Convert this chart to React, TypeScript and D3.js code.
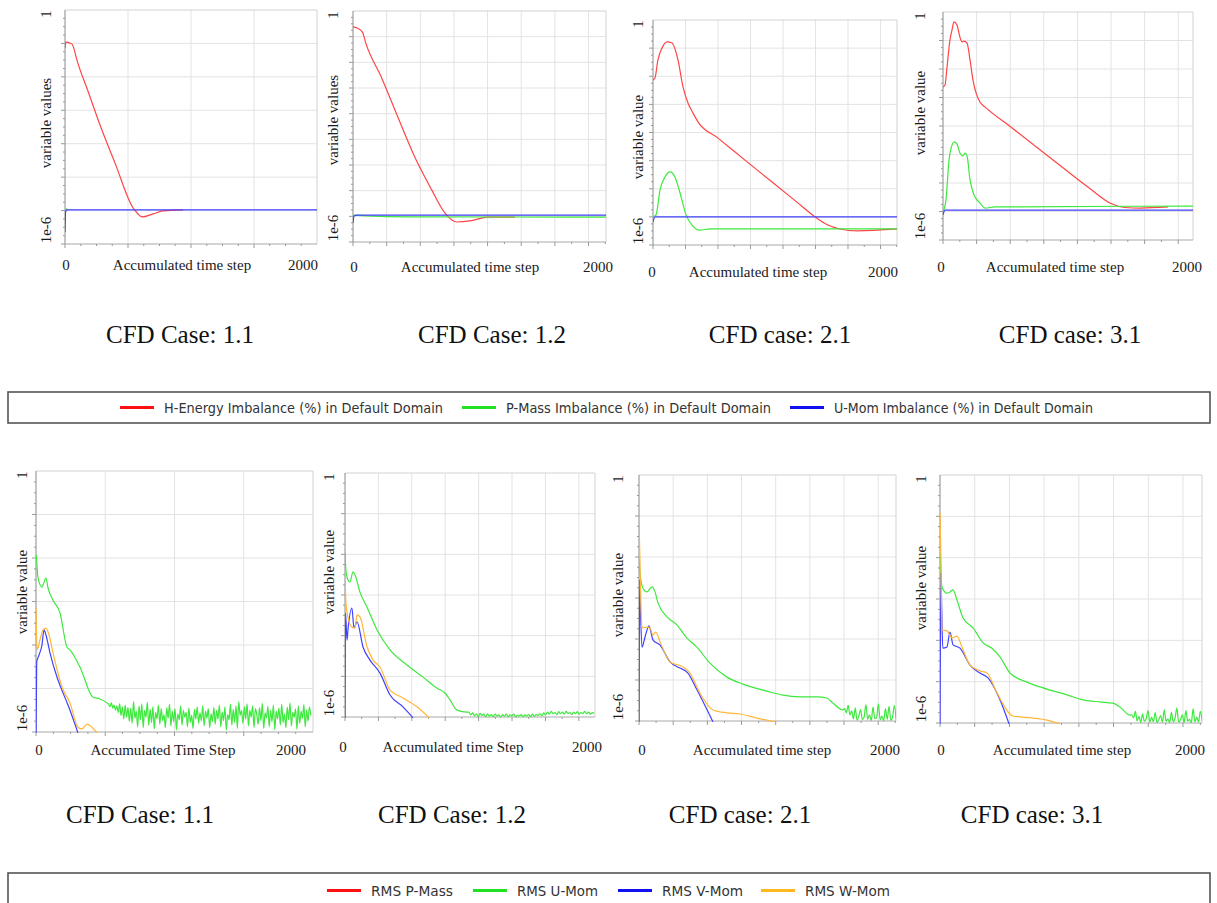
import React from 'react';
import * as d3 from 'd3';

type P = [number, number]; // [accumulated time step, log10(value)]

// ---------- Top row: imbalance (%) ----------
const t11Red: P[] = [[0,-1.14],[8,-0.96],[40,-0.99],[56,-1.02],[67,-1.11],[95,-1.5],[180,-2.4],[278,-3.44],[400,-4.61],[540,-5.92],[575,-6.08],[611,-6.19],[699,-6.1],[778,-6.01],[937,-5.98]];
const t11Green: P[] = [[0,-6.35],[6,-5.95],[25,-5.98]];
const t11Blue: P[] = [[0,-6.64],[5,-6.04],[15,-5.98],[2000,-5.98]];

const t12Red: P[] = [[0,-0.62],[30,-0.66],[70,-0.82],[95,-1.25],[213,-2.61],[333,-4.13],[459,-5.69],[585,-6.97],[682,-7.87],[734,-8.14],[771,-8.22],[868,-8.18],[1002,-8.03],[1203,-8.03]];
const t12Green: P[] = [[0,-7.95],[100,-7.98],[400,-8.02],[1880,-8.03]];
const t12Blue: P[] = [[0,-8.26],[8,-7.99],[30,-7.95],[1880,-7.95]];

const t21Red: P[] = [[0,-2.13],[15,-2.06],[38,-1.42],[69,-1.0],[108,-0.78],[146,-0.82],[192,-1.42],[231,-2.38],[269,-2.95],[308,-3.31],[346,-3.62],[500,-4.2],[800,-5.33],[1100,-6.45],[1246,-7.0],[1340,-7.28],[1438,-7.43],[1569,-7.5],[1877,-7.43]];
const t21Green: P[] = [[0,-7.0],[23,-6.93],[54,-6.04],[92,-5.58],[131,-5.4],[169,-5.58],[208,-6.15],[254,-6.93],[300,-7.29],[361,-7.47],[438,-7.43],[1877,-7.43]];
const t21Blue: P[] = [[0,-7.18],[15,-7.0],[1877,-7.0]];

const t31Red: P[] = [[0,-2.63],[15,-2.56],[30,-1.93],[52,-0.98],[67,-0.63],[82,-0.35],[104,-0.46],[126,-0.88],[141,-1.05],[156,-1.02],[179,-1.09],[201,-1.68],[223,-2.39],[246,-2.84],[275,-3.16],[312,-3.33],[500,-4.02],[800,-5.12],[1100,-6.22],[1250,-6.72],[1354,-6.86],[1466,-6.88],[1674,-6.84]];
const t31Green: P[] = [[0,-7.02],[22,-6.6],[45,-5.19],[67,-4.67],[82,-4.56],[104,-4.63],[126,-4.95],[149,-5.05],[164,-4.95],[179,-5.05],[201,-5.89],[231,-6.42],[275,-6.7],[312,-6.88],[387,-6.84],[1860,-6.81]];
const t31Blue: P[] = [[0,-7.12],[15,-6.95],[1860,-6.95]];

// ---------- Bottom row: RMS residuals ----------
const b11Green: P[] = [[3,-1.93],[14,-2.44],[43,-2.67],[51,-2.62],[72,-2.46],[87,-2.69],[123,-2.97],[173,-3.26],[224,-4.05],[245,-4.11],[318,-4.51],[412,-5.2],[462,-5.24],[513,-5.33]];
const b11GreenNoiseStart = 524;
const b11GreenNoiseStep = 10;
const b11GreenNoise: number[] = [-5.36,-5.42,-5.33,-5.45,-5.38,-5.5,-5.4,-5.55,-5.35,-5.62,-5.42,-5.7,-5.38,-5.66,-5.44,
  -5.75,-5.45,-5.8,-5.3,-5.68,-5.52,-5.88,-5.4,-5.72,-5.35,-5.9,-5.5,-5.66,-5.32,-5.85,-5.48,-5.78,-5.42,-5.93,-5.55,-5.7,-5.38,-5.82,-5.46,-5.74,-5.6,-5.9,-5.44,-5.68,-5.36,-5.86,-5.52,-5.76,-5.47,-5.95,-5.58,-5.72,-5.4,-5.84,-5.5,-5.66,-5.55,-5.88,-5.45,-5.78,-5.62,-5.92,-5.48,-5.7,-5.42,-5.8,-5.56,-5.74,-5.4,-5.86,-5.52,-5.68,-5.46,-5.9,-5.58,-5.76,-5.44,-5.82,-5.5,-5.7,-5.38,-5.88,-5.54,-5.74,-5.42,-5.96,-5.6,-5.72,-5.36,-5.84,-5.48,-5.78,-5.4,-5.92,-5.3,-5.62,-5.5,-5.8,-5.42,-5.7,-5.35,-5.86,-5.5,-5.66,-5.4,-5.9,-5.46,-5.6,
  -5.82,-5.44,-5.74,-5.34,-5.92,-5.56,-5.68,-5.41,-5.88,-5.5,-5.76,-5.38,-5.95,-5.52,-5.7,-5.45,-5.84,-5.36,-5.78,-5.58,-5.9,-5.43,-5.72,-5.33,-5.86,-5.54,-5.66,-5.47,-5.94,-5.4,-5.8,-5.52,-5.69,-5.37,-5.88,-5.49,-5.75,-5.42,-5.62];
const b11Blue: P[] = [[0,-6.2],[5,-4.39],[22,-4.23],[43,-4.0],[58,-3.65],[72,-3.77],[101,-4.18],[152,-4.74],[195,-5.1],[231,-5.38],[303,-6.02]];
const b11Orange: P[] = [[0,-3.15],[8,-4.11],[29,-3.88],[51,-3.65],[72,-3.61],[94,-3.77],[123,-4.18],[188,-4.97],[245,-5.33],[303,-5.89],[332,-5.93],[368,-5.82],[404,-5.89],[440,-6.02]];

const b12Green: P[] = [[0,-1.97],[7,-2.39],[22,-2.63],[37,-2.68],[60,-2.43],[75,-2.51],[112,-2.93],[165,-3.3],[240,-3.86],[337,-4.35],[464,-4.72],[584,-5.02],[689,-5.29],[749,-5.41],[786,-5.58],[838,-5.83],[913,-5.88]];
const b12GreenNoiseStart = 927;
const b12GreenNoiseStep = 14;
const b12GreenNoise: number[] = [-5.88,-5.95,-5.9,-5.97,-5.92,-5.99,-5.91,-5.96,-5.93,-6.0,-5.92,-5.98,-5.94,-5.99,-5.93,-5.97,-5.95,-6.0,-5.94,-5.98,-5.92,-5.99,-5.95,-5.97,-5.93,-6.0,-5.96,-5.98,-5.94,-5.99,-5.95,-5.97,-5.94,-5.99,-5.93,-5.98,-5.94,-5.96,-5.92,-5.97,-5.9,-5.95,-5.88,-5.93,-5.86,-5.92,-5.89,-5.94,-5.87,-5.92,-5.88,-5.93,-5.86,-5.91,-5.89,-5.94,-5.88,-5.92,-5.87,-5.93,-5.89,-5.91,-5.86,-5.92,-5.88,-5.93,-5.89,-5.91];
const b12Blue: P[] = [[0,-6.07],[4,-3.44],[15,-4.11],[22,-3.86],[52,-3.32],[67,-3.81],[90,-3.66],[135,-4.28],[187,-4.6],[262,-4.92],[337,-5.46],[434,-5.75],[509,-6.02]];
const b12Orange: P[] = [[0,-2.39],[7,-3.2],[22,-3.54],[52,-3.79],[75,-3.81],[90,-3.49],[112,-3.54],[165,-4.28],[210,-4.6],[262,-4.77],[337,-5.34],[434,-5.53],[539,-5.75],[629,-6.02]];

const b21Green: P[] = [[0,-2.0],[7,-2.39],[29,-2.76],[58,-2.85],[95,-2.73],[117,-2.85],[139,-3.12],[205,-3.46],[278,-3.66],[351,-3.98],[424,-4.2],[519,-4.59],[643,-4.93],[760,-5.1],[936,-5.27],[1053,-5.37],[1177,-5.41],[1301,-5.41],[1374,-5.44],[1418,-5.56],[1491,-5.73]];
const b21GreenNoiseStart = 1504;
const b21GreenNoiseStep = 13;
const b21GreenNoise: number[] = [-5.7,-5.8,-5.62,-5.85,-5.75,-5.95,-5.68,-5.98,-5.88,-5.72,-5.97,-5.9,-5.6,-5.96,-5.85,-5.99,-5.66,-5.94,-5.92,-5.58,-5.97,-5.88,-5.99,-5.7,-5.96,-5.64,-5.98,-5.9,-5.62,-5.97];
const b21Blue: P[] = [[0,-6.1],[5,-2.56],[10,-3.22],[22,-4.2],[44,-3.95],[73,-3.68],[102,-4.02],[154,-4.15],[227,-4.56],[300,-4.71],[358,-4.83],[424,-5.24],[541,-6.02]];
const b21Orange: P[] = [[0,-1.15],[7,-2.07],[15,-3.29],[22,-3.73],[58,-3.71],[80,-3.73],[102,-3.9],[124,-3.83],[154,-4.07],[227,-4.56],[322,-4.68],[373,-4.83],[446,-5.32],[541,-5.73],[643,-5.8],[738,-5.83],[863,-5.93],[994,-6.02]];

const b31Green: P[] = [[0,-1.86],[14,-2.71],[50,-2.86],[72,-2.83],[94,-2.78],[122,-3.02],[166,-3.46],[238,-3.7],[310,-4.06],[374,-4.19],[432,-4.4],[504,-4.79],[626,-5.01],[742,-5.15],[914,-5.32],[1030,-5.44],[1152,-5.49],[1246,-5.52],[1296,-5.61],[1368,-5.81]];
const b31GreenNoiseStart = 1381;
const b31GreenNoiseStep = 13;
const b31GreenNoise: number[] = [-5.8,-5.88,-5.72,-5.95,-5.84,-5.99,-5.78,-5.96,-5.9,-5.7,-5.98,-5.86,-5.97,-5.75,-5.99,-5.92,-5.82,-5.98,-5.68,-5.96,-5.9,-5.99,-5.74,-5.97,-5.88,-5.64,-5.98,-5.93,-5.8,-5.99,-5.7,-5.96,-5.91,-5.99,-5.66,-5.97,-5.86,-5.98,-5.72,-5.95];
const b31Blue: P[] = [[0,-6.07],[7,-2.37],[12,-3.15],[20,-4.19],[50,-4.16],[72,-3.8],[94,-4.11],[144,-4.19],[216,-4.6],[288,-4.79],[346,-4.91],[432,-5.44],[497,-6.02]];
const b31Orange: P[] = [[0,-0.92],[7,-2.06],[14,-3.75],[50,-3.77],[86,-3.94],[122,-3.9],[158,-4.16],[216,-4.6],[288,-4.74],[338,-4.79],[410,-5.27],[526,-5.83],[670,-5.88],[770,-5.93],[864,-6.02]];

const topCaptions = ['CFD Case: 1.1', 'CFD Case: 1.2', 'CFD case: 2.1', 'CFD case: 3.1'];
const bottomCaptions = ['CFD Case: 1.1', 'CFD Case: 1.2', 'CFD case: 2.1', 'CFD case: 3.1'];
const topLegend = ['H-Energy Imbalance (%) in Default Domain', 'P-Mass Imbalance (%) in Default Domain', 'U-Mom Imbalance (%) in Default Domain'];
const bottomLegend = ['RMS P-Mass', 'RMS U-Mom', 'RMS V-Mom', 'RMS W-Mom'];

const C = { red: '#ff4545', green: '#3ee83e', blue: '#4040ff', orange: '#ffb638' };
const LC = { red: '#ff1010', green: '#22e022', blue: '#1010f0', orange: '#ffb820' };

const withNoise = (smooth: P[], start: number, step: number, vals: number[]): P[] =>
  smooth.concat(vals.map((v, i) => [start + i * step, v] as P));

const SERIF = '"Liberation Serif", "Times New Roman", serif';
const SANS = '"DejaVu Sans", "Liberation Sans", sans-serif';

type Cfg = {
  id: string; left: number; right: number; top: number; bottom: number;
  xMax: number; xStep: number; xSub: number; yMinExp: number;
  yTitle: string; xTitle: string; yLabelX: number; yTitleY: number;
  zeroX: number; titleX: number; endX: number; labelY: number;
  series: { pts: P[]; color: string; w?: number }[];
};

const panels: Cfg[] = [
  { id: 't1', left: 65, right: 317, top: 10, bottom: 244, xMax: 2000, xStep: 500, xSub: 4, yMinExp: -7,
    yTitle: 'variable values', xTitle: 'Accumulated time step', yLabelX: 46, yTitleY: 123,
    zeroX: 66, titleX: 182, endX: 318, labelY: 270,
    series: [{ pts: t11Red, color: C.red }, { pts: t11Green, color: C.green }, { pts: t11Blue, color: C.blue }] },
  { id: 't2', left: 353, right: 606, top: 11, bottom: 242, xMax: 1880, xStep: 250, xSub: 2, yMinExp: -9,
    yTitle: 'variable values', xTitle: 'Accumulated time step', yLabelX: 333, yTitleY: 120,
    zeroX: 354, titleX: 470, endX: 613, labelY: 272,
    series: [{ pts: t12Red, color: C.red }, { pts: t12Green, color: C.green }, { pts: t12Blue, color: C.blue }] },
  { id: 't3', left: 653, right: 897, top: 20, bottom: 245, xMax: 1877, xStep: 250, xSub: 2, yMinExp: -8,
    yTitle: 'variable value', xTitle: 'Accumulated time step', yLabelX: 638, yTitleY: 137,
    zeroX: 652, titleX: 758, endX: 898, labelY: 277,
    series: [{ pts: t21Red, color: C.red }, { pts: t21Green, color: C.green }, { pts: t21Blue, color: C.blue }] },
  { id: 't4', left: 943, right: 1193, top: 12, bottom: 240, xMax: 1860, xStep: 250, xSub: 2, yMinExp: -8,
    yTitle: 'variable value', xTitle: 'Accumulated time step', yLabelX: 920, yTitleY: 113,
    zeroX: 941, titleX: 1055, endX: 1202, labelY: 272,
    series: [{ pts: t31Red, color: C.red }, { pts: t31Green, color: C.green }, { pts: t31Blue, color: C.blue }] },
  { id: 'b1', left: 36, right: 313, top: 471, bottom: 732, xMax: 2000, xStep: 500, xSub: 4, yMinExp: -6,
    yTitle: 'variable value', xTitle: 'Accumulated Time Step', yLabelX: 22, yTitleY: 592,
    zeroX: 39, titleX: 163, endX: 306, labelY: 755,
    series: [{ pts: withNoise(b11Green, b11GreenNoiseStart, b11GreenNoiseStep, b11GreenNoise), color: C.green },
             { pts: b11Blue, color: C.blue }, { pts: b11Orange, color: C.orange }] },
  { id: 'b2', left: 345, right: 595, top: 473, bottom: 717, xMax: 1871, xStep: 250, xSub: 2, yMinExp: -6,
    yTitle: 'variable value', xTitle: 'Accumulated time Step', yLabelX: 329, yTitleY: 572,
    zeroX: 343, titleX: 453, endX: 602, labelY: 752,
    series: [{ pts: withNoise(b12Green, b12GreenNoiseStart, b12GreenNoiseStep, b12GreenNoise), color: C.green },
             { pts: b12Blue, color: C.blue }, { pts: b12Orange, color: C.orange }] },
  { id: 'b3', left: 639, right: 896, top: 475, bottom: 721, xMax: 1880, xStep: 250, xSub: 2, yMinExp: -6,
    yTitle: 'variable value', xTitle: 'Accumulated time step', yLabelX: 618, yTitleY: 595,
    zeroX: 642, titleX: 762, endX: 900, labelY: 755,
    series: [{ pts: withNoise(b21Green, b21GreenNoiseStart, b21GreenNoiseStep, b21GreenNoise), color: C.green },
             { pts: b21Blue, color: C.blue }, { pts: b21Orange, color: C.orange }] },
  { id: 'b4', left: 940, right: 1202, top: 475, bottom: 723, xMax: 1887, xStep: 250, xSub: 2, yMinExp: -6,
    yTitle: 'variable value', xTitle: 'Accumulated time step', yLabelX: 921, yTitleY: 588,
    zeroX: 941, titleX: 1062, endX: 1205, labelY: 755,
    series: [{ pts: withNoise(b31Green, b31GreenNoiseStart, b31GreenNoiseStep, b31GreenNoise), color: C.green },
             { pts: b31Blue, color: C.blue }, { pts: b31Orange, color: C.orange }] },
];

function Panel({ cfg }: { cfg: Cfg }) {
  const x = d3.scaleLinear().domain([0, cfg.xMax]).range([cfg.left, cfg.right]);
  const y = d3.scaleLog().domain([Math.pow(10, cfg.yMinExp), 1]).range([cfg.bottom, cfg.top]);
  const xGrid = d3.range(cfg.xStep, cfg.xMax, cfg.xStep);
  const xMinor = d3.range(0, cfg.xMax, cfg.xStep / cfg.xSub);
  const yExps = d3.range(cfg.yMinExp + 1, 0);
  const yMinor = d3.range(cfg.yMinExp, 0, 0.25);
  const line = d3.line<P>().x(d => x(d[0])).y(d => y(Math.pow(10, d[1]))).curve(d3.curveMonotoneX);
  const textStyle = { fontFamily: SERIF, fontSize: 15, fill: '#1a1a1a' } as const;
  return (
    <g>
      <defs>
        <clipPath id={'clip-' + cfg.id}>
          <rect x={cfg.left} y={cfg.top} width={cfg.right - cfg.left} height={cfg.bottom - cfg.top + 1} />
        </clipPath>
      </defs>
      {xGrid.map(v => (
        <line key={'gx' + v} x1={x(v)} x2={x(v)} y1={cfg.top} y2={cfg.bottom} stroke="#e3e3e3" />
      ))}
      {yExps.map(e => (
        <line key={'gy' + e} x1={cfg.left} x2={cfg.right} y1={y(Math.pow(10, e))} y2={y(Math.pow(10, e))} stroke="#e3e3e3" />
      ))}
      <line x1={cfg.left} x2={cfg.right} y1={cfg.top} y2={cfg.top} stroke="#d2d2d2" />
      <line x1={cfg.right} x2={cfg.right} y1={cfg.top} y2={cfg.bottom} stroke="#d2d2d2" />
      <line x1={cfg.left} x2={cfg.right} y1={cfg.bottom} y2={cfg.bottom} stroke="#a8a8a8" />
      <line x1={cfg.left} x2={cfg.left} y1={cfg.top} y2={cfg.bottom} stroke="#8a8a8a" />
      {xMinor.map(v => (
        <line key={'tx' + v} x1={x(v)} x2={x(v)} y1={cfg.bottom} y2={cfg.bottom + (v % cfg.xStep === 0 ? 4 : 2)} stroke="#999" />
      ))}
      {yMinor.map(e => (
        <line key={'ty' + e} x1={cfg.left - (Number.isInteger(e) ? 4 : 2)} x2={cfg.left}
          y1={y(Math.pow(10, e))} y2={y(Math.pow(10, e))} stroke="#999" />
      ))}
      <g clipPath={`url(#clip-${cfg.id})`}>
        {cfg.series.map((s, i) => (
          <path key={i} d={line(s.pts) || ''} fill="none" stroke={s.color} strokeWidth={s.w ?? 1.2} />
        ))}
      </g>
      <text transform={`translate(${cfg.yLabelX},${cfg.top + 4}) rotate(-90)`} textAnchor="middle" dominantBaseline="central" style={textStyle}>1</text>
      <text transform={`translate(${cfg.yLabelX},${cfg.bottom - 14}) rotate(-90)`} textAnchor="middle" dominantBaseline="central" style={textStyle}>1e-6</text>
      <text transform={`translate(${cfg.yLabelX},${cfg.yTitleY}) rotate(-90)`} textAnchor="middle" dominantBaseline="central" style={textStyle}>{cfg.yTitle}</text>
      <text x={cfg.zeroX} y={cfg.labelY} textAnchor="middle" style={textStyle}>0</text>
      <text x={cfg.titleX} y={cfg.labelY} textAnchor="middle" style={textStyle}>{cfg.xTitle}</text>
      <text x={cfg.endX} y={cfg.labelY} textAnchor="end" style={textStyle}>2000</text>
    </g>
  );
}

const topCaptionX = [180, 492, 780, 1070];
const bottomCaptionX = [140, 452, 740, 1032];

export default function App() {
  const topLegendLayout = [
    { lineX: 120, textX: 164, len: 279, color: LC.red },
    { lineX: 462, textX: 506, len: 265, color: LC.green },
    { lineX: 790, textX: 834, len: 259, color: LC.blue },
  ];
  const bottomLegendLayout = [
    { lineX: 327, textX: 371, len: 82, color: LC.red },
    { lineX: 473, textX: 517, len: 81, color: LC.green },
    { lineX: 618, textX: 662, len: 81, color: LC.blue },
    { lineX: 761, textX: 805, len: 85, color: LC.orange },
  ];
  const capStyle = { fontFamily: SERIF, fontSize: 25, fill: '#111' } as const;
  return (
    <svg width={1217} height={903} style={{ position: 'absolute', left: 0, top: 0, background: '#fff' }}>
      <rect x={0} y={0} width={1217} height={903} fill="#fff" />
      {panels.map(p => <Panel key={p.id} cfg={p} />)}
      {topCaptions.map((t, i) => (
        <text key={'tc' + i} x={topCaptionX[i]} y={343} textAnchor="middle" style={capStyle}>{t}</text>
      ))}
      {bottomCaptions.map((t, i) => (
        <text key={'bc' + i} x={bottomCaptionX[i]} y={823} textAnchor="middle" style={capStyle}>{t}</text>
      ))}
      <rect x={8} y={392} width={1202} height={31} fill="#fff" stroke="#555" strokeWidth={1.6} />
      {topLegend.map((t, i) => {
        const l = topLegendLayout[i];
        return (
          <g key={'tl' + i}>
            <line x1={l.lineX} x2={l.lineX + 34} y1={407.5} y2={407.5} stroke={l.color} strokeWidth={3} />
            <text x={l.textX} y={412.5} textLength={l.len} lengthAdjust="spacingAndGlyphs" style={{ fontFamily: SANS, fontSize: 13.5, fill: '#333' }}>{t}</text>
          </g>
        );
      })}
      <rect x={8} y={873} width={1202} height={45} fill="#fff" stroke="#555" strokeWidth={1.6} />
      {bottomLegend.map((t, i) => {
        const l = bottomLegendLayout[i];
        return (
          <g key={'bl' + i}>
            <line x1={l.lineX} x2={l.lineX + 34} y1={890.5} y2={890.5} stroke={l.color} strokeWidth={3} />
            <text x={l.textX} y={895.5} textLength={l.len} lengthAdjust="spacingAndGlyphs" style={{ fontFamily: SANS, fontSize: 13.5, fill: '#333' }}>{t}</text>
          </g>
        );
      })}
    </svg>
  );
}
